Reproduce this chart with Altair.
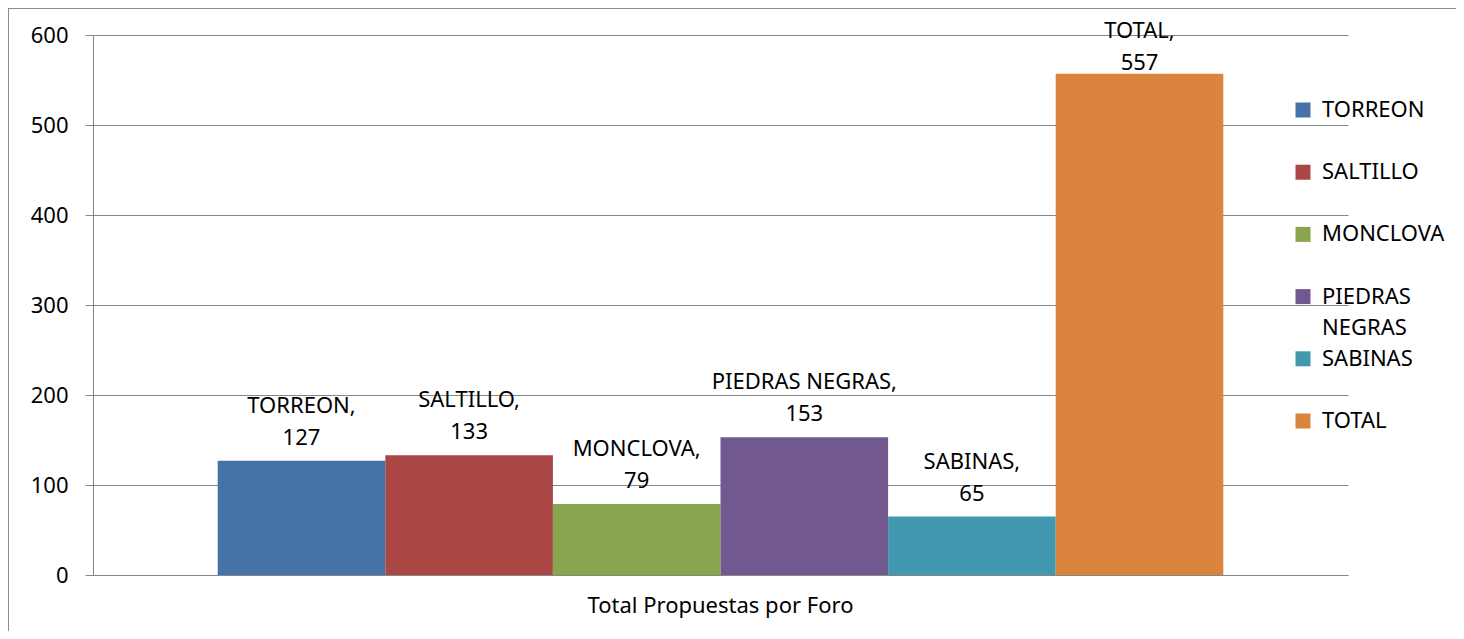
import altair as alt
import pandas as pd

category = "Total Propuestas por Foro"
series = ["TORREON", "SALTILLO", "MONCLOVA", "PIEDRAS NEGRAS", "SABINAS", "TOTAL"]
values = [127, 133, 79, 153, 65, 557]
colors = ["#4572A7", "#AA4643", "#89A54E", "#71588F", "#4198AF", "#DB843D"]
y_ticks = [0, 100, 200, 300, 400, 500, 600]

df = pd.DataFrame({
    "cat": [category] * len(series),
    "serie": series,
    "valor": values,
})
df["label"] = [f"{s},\n{v}" for s, v in zip(series, values)]

FONT = "Noto Sans"
GRAY = "#868686"
FRAME = "#8c8c8c"

base = alt.Chart(df).encode(
    x=alt.X(
        "cat:N",
        scale=alt.Scale(paddingInner=0, paddingOuter=0.124),
        axis=alt.Axis(title=None, labelAngle=0, ticks=False, labelPadding=20,
                      labelLimit=2000, labelFontSize=22, labelColor="#000000",
                      domainColor=GRAY),
    ),
    xOffset=alt.XOffset("serie:N", sort=series,
                        scale=alt.Scale(domain=series, paddingInner=0, paddingOuter=0)),
)

bars = base.mark_bar().encode(
    y=alt.Y(
        "valor:Q",
        scale=alt.Scale(domain=[0, 600], nice=False),
        axis=alt.Axis(title=None, values=y_ticks, tickSize=8, tickColor=GRAY,
                      domainColor=GRAY, gridColor=GRAY, labelFontSize=22,
                      labelColor="#000000", labelPadding=17),
    ),
    color=alt.Color(
        "serie:N", sort=series,
        scale=alt.Scale(domain=series, range=colors),
        legend=alt.Legend(
            title=None, orient="none", legendX=1199, legendY=64,
            symbolType="square", symbolSize=225, symbolStrokeWidth=0,
            labelFontSize=22, labelColor="#000000", labelOffset=8,
            rowPadding=9.2, padding=0,
            labelExpr="datum.label == 'PIEDRAS NEGRAS' ? ['PIEDRAS', 'NEGRAS'] : [datum.label, '']",
        ),
    ),
)

# labels kept inside the chart area, as the original does for the tallest bar
labels = base.transform_calculate(
    label_y="min(datum.valor, 543)"
).mark_text(
    baseline="alphabetic", dy=-48, fontSize=22, lineBreak="\n", lineHeight=32,
    color="#000000", font=FONT,
).encode(
    y=alt.Y("label_y:Q"),
    text=alt.Text("label:N"),
)

# outer frame of the chart (decoration only): thin filled strips on left and top edges
frame_src = alt.Chart(pd.DataFrame({"f": [0]}))
frame_left = frame_src.mark_rect(fill=FRAME, strokeWidth=0, clip=False).encode(
    x=alt.value(-85), x2=alt.value(-84), y=alt.value(-27), y2=alt.value(600),
)
frame_top = frame_src.mark_rect(fill=FRAME, strokeWidth=0, clip=False).encode(
    x=alt.value(-85), x2=alt.value(1363), y=alt.value(-27), y2=alt.value(-26),
)

chart = alt.layer(frame_left, frame_top, bars, labels).properties(
    width=1255, height=540,
    autosize=alt.AutoSizeParams(type="none"),
    padding={"left": 85, "top": 27, "right": 108, "bottom": 56},
).configure(
    font=FONT,
    style={"guide-label": {"lineHeight": 31}},
).configure_view(
    stroke=None,
).configure_axis(
    labelFont=FONT,
)

chart.save("out.html", embed_options={"renderer": "svg", "actions": False})
